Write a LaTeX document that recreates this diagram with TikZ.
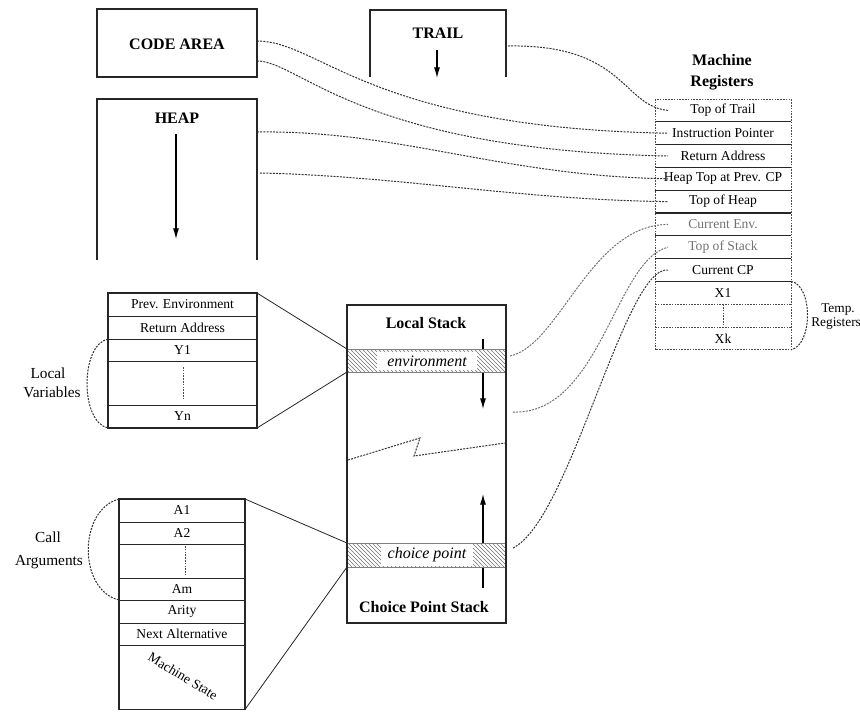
\documentclass[tikz,border=0pt]{standalone}
\usepackage{fontspec}
\setmainfont{Liberation Serif}
\usetikzlibrary{patterns,arrows.meta}

\begin{document}
\begin{tikzpicture}[x=0.75pt,y=-0.75pt,
  box/.style={draw=black!85, line width=0.9pt},
  seprule/.style={draw=black!85, line width=0.8pt},
  thinrule/.style={draw=black!85, line width=0.6pt},
  dotrule/.style={draw=black!70, line width=0.7pt, dash pattern=on 1.2pt off 0.9pt},
  link/.style={draw=black!80, line width=0.75pt, dash pattern=on 1.5pt off 0.9pt},
  faintlink/.style={link, draw=black!55},
  growarrow/.style={draw=black, line width=0.8pt, -{Latex[length=8pt,width=4.5pt]}},
  title/.style={font=\fontsize{12}{15.5}\selectfont\bfseries, inner sep=0pt, align=center},
  cell/.style={font=\fontsize{10.2}{12}\selectfont, inner sep=0pt},
  sidelabel/.style={font=\fontsize{11.5}{13}\selectfont, inner sep=0pt},
  hatchband/.style={draw=black!50, line width=0.6pt, pattern=north west lines, pattern color=black!55},
  bandtext/.style={fill=white, font=\fontsize{12}{14}\selectfont\itshape, inner ysep=2.5pt}
]
\useasboundingbox (0,0) rectangle (860,711);
\fill[white] (0,0) rectangle (860,711);

% ---------- code area ----------
\draw[box] (97,9) rectangle (257,77);
\node[title] (code) at (177,44) {CODE AREA};
\coordinate (codeA) at (257,41);
\coordinate (codeB) at (257,61);

% ---------- heap ----------
\draw[box] (97,260) -- (97,99) -- (257,99) -- (257,260);
\node[title] (heap) at (177,118) {HEAP};
\coordinate (heapTop) at (176,134);
\coordinate (heapEnd) at (176,239);
\draw[growarrow] (heapTop) -- (heapEnd);
\coordinate (heapA) at (257,132);
\coordinate (heapB) at (260,173);

% ---------- trail ----------
\draw[box] (370,77) -- (370,10) -- (506,10) -- (506,77);
\node[title] (trail) at (438,33) {TRAIL};
\coordinate (trailTop) at (437,50);
\coordinate (trailEnd) at (437,78);
\draw[growarrow] (trailTop) -- (trailEnd);
\coordinate (trailA) at (508,46);

% ---------- machine registers ----------
\node[title] (mreg) at (722,72.5) {Machine\\Registers};
\foreach \y in {121.8,144.6,167.4,190.2,213,235.8,258.6,281.4}
  \draw[seprule] (655,\y) -- (791,\y);
\draw[dotrule] (655,304.2) -- (791,304.2);
\draw[dotrule] (655,327) -- (791,327);
\draw[dotrule] (723,304.2) -- (723,327);
\draw[dotrule] (655,99) rectangle (791,349.8);

\node[cell] (rTT) at (723,110.4) {Top of Trail};
\node[cell] (rIP) at (723,133.2) {Instruction Pointer};
\node[cell] (rRA) at (723,156) {Return Address};
\node[cell] (rHT) at (723,178.8) {Heap Top at Prev. CP};
\node[cell] (rTH) at (723,201.6) {Top of Heap};
\node[cell, text=black!55] (rCE) at (723,224.4) {Current Env.};
\node[cell, text=black!55] (rTS) at (723,247.2) {Top of Stack};
\node[cell] (rCP) at (723,270) {Current CP};
\node[cell] (rX1) at (723,292.8) {X1};
\node[cell] (rXk) at (723,338.4) {Xk};

\coordinate (eTT) at (668,110.4);
\coordinate (eIP) at (668,133.2);
\coordinate (eRA) at (668,156);
\coordinate (eHT) at (668,178.8);
\coordinate (eTH) at (668,201.6);
\coordinate (eCE) at (668,224.4);
\coordinate (eTS) at (668,247.2);
\coordinate (eCP) at (668,270);

% temporary registers brace
\coordinate (tmpTop) at (791,281.4);
\coordinate (tmpBot) at (791,349.8);
\draw[link] (tmpTop) .. controls (813,285) and (813,345) .. (tmpBot);
\node[font=\fontsize{10}{12}\selectfont, inner sep=0pt] (temp) at (838,310) {Temp.};
\node[font=\fontsize{10}{12}\selectfont, inner sep=0pt, anchor=west] (tregs) at (811,324) {Registers};

% ---------- local stack / choice point stack ----------
\coordinate (envDown) at (483,339);
\coordinate (envDownEnd) at (483,409);
\draw[growarrow] (envDown) -- (envDownEnd);
\coordinate (cpUp) at (483,588);
\coordinate (cpUpEnd) at (483,494);
\draw[growarrow] (cpUp) -- (cpUpEnd);

\fill[white] (347,349) rectangle (506,372);
\draw[hatchband] (347,349) rectangle (506,372);
\node[bandtext, inner xsep=8pt] (env) at (427,361) {environment};

\fill[white] (347,543) rectangle (506,567);
\draw[hatchband] (347,543) rectangle (506,567);
\node[bandtext, inner xsep=5pt] (cp) at (427,555) {choice point};

\draw[box] (347,305) rectangle (506,623);
\node[title] (lstack) at (426,323) {Local Stack};
\node[title] (cpstack) at (424,607) {Choice Point Stack};

% free-space boundary
\coordinate (zzA) at (348,460);
\coordinate (zzB) at (420,438);
\coordinate (zzC) at (414,456);
\coordinate (zzD) at (505,443);
\draw[link] (zzA) -- (zzB) -- (zzC) -- (zzD);

% ---------- environment frame ----------
\draw[box] (108,293) rectangle (257,428);
\foreach \y in {316,339,361,405}
  \draw[thinrule] (108,\y) -- (257,\y);
\node[cell] (fPE) at (182.5,304.5) {Prev. Environment};
\node[cell] (fRA) at (182.5,327.5) {Return Address};
\node[cell] (fY1) at (182.5,350) {Y1};
\node[cell] (fYn) at (182.5,416.5) {Yn};
\draw[dotrule] (183,367) -- (183,400);

\coordinate (envTL) at (257,293);
\coordinate (envBL) at (257,428);
\coordinate (bandEnvT) at (347,349);
\coordinate (bandEnvB) at (347,372);
\draw[thinrule] (envTL) -- (bandEnvT);
\draw[thinrule] (envBL) -- (bandEnvB);

\coordinate (lvTop) at (108,339);
\coordinate (lvBot) at (108,428);
\draw[link] (lvTop) .. controls (80,345) and (80,422) .. (lvBot);
\node[sidelabel] (lv1) at (48,373) {Local};
\node[sidelabel] (lv2) at (52,392) {Variables};

% ---------- choice point frame ----------
\draw[box] (119,499) rectangle (245,709.5);
\foreach \y in {522,544,578,600,623,645}
  \draw[thinrule] (119,\y) -- (245,\y);
\node[cell] (cA1) at (182,510.5) {A1};
\node[cell] (cA2) at (182,533) {A2};
\node[cell] (cAm) at (182,589) {Am};
\node[cell] (cAr) at (182,611.5) {Arity};
\node[cell] (cNA) at (182,634) {Next Alternative};
\node[cell, rotate=-31] (cMS) at (183,676) {Machine State};
\draw[dotrule] (185,546) -- (185,575);

\coordinate (cpTL) at (245,499);
\coordinate (cpBL) at (245,709.5);
\coordinate (bandCpT) at (347,543);
\coordinate (bandCpB) at (347,567);
\draw[thinrule] (cpTL) -- (bandCpT);
\draw[thinrule] (cpBL) -- (bandCpB);

\coordinate (caTop) at (119,499);
\coordinate (caBot) at (119,600);
\draw[link] (caTop) .. controls (78,510) and (78,590) .. (caBot);
\node[sidelabel] (ca1) at (48,537) {Call};
\node[sidelabel] (ca2) at (49,562) {Arguments};

% ---------- register pointers ----------
\draw[link] (trailA) .. controls (625,44) and (622,106) .. (eTT);
\draw[link] (codeA) .. controls (320,41) and (370,128) .. (eIP);
\draw[link] (codeB) .. controls (300,61) and (360,150) .. (eRA);
\draw[link] (heapA) .. controls (400,130) and (500,176) .. (eHT);
\draw[link] (heapB) .. controls (400,176) and (520,200) .. (eTH);

\coordinate (envR) at (510,356);
\coordinate (stackR) at (513,412);
\coordinate (cpR) at (513,548);
\draw[faintlink] (envR) .. controls (560,345) and (590,225) .. (eCE);
\draw[faintlink] (stackR) .. controls (600,415) and (615,260) .. (eTS);
\draw[link] (cpR) .. controls (570,520) and (625,265) .. (eCP);
\end{tikzpicture}
\end{document}
